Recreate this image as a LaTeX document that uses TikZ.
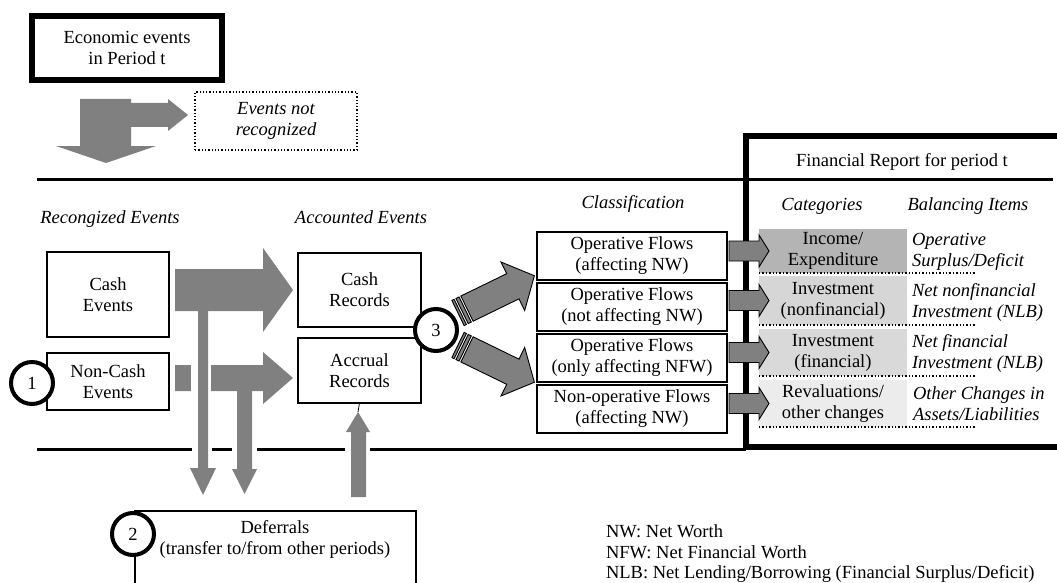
\documentclass[tikz,border=0pt]{standalone}
\usepackage{fontspec}
\setmainfont{Liberation Serif}
\definecolor{blockgrey}{HTML}{808080}
\definecolor{catA}{HTML}{B4B4B4}
\definecolor{catB}{HTML}{D6D6D6}
\definecolor{catC}{HTML}{D9D9D9}
\definecolor{catD}{HTML}{ECECEC}
\begin{document}
\begin{tikzpicture}[x=1pt,y=-1pt,
  font=\fontsize{18.5}{21}\selectfont,
  every node/.style={inner sep=0pt, outer sep=0pt},
  thinbox/.style={draw, line width=1.3pt, fill=white, align=center},
  heavybox/.style={draw, line width=6pt, fill=white, align=center},
  dotbox/.style={draw, dotted, line width=1.3pt, align=center, font=\fontsize{18.5}{21}\selectfont\itshape},
  ring/.style={circle, draw, line width=4pt, fill=white, minimum size=42pt},
  heading/.style={anchor=base, font=\fontsize{18.5}{21}\selectfont\itshape},
  catcell/.style={minimum width=148pt, align=center},
  balance/.style={anchor=west, align=left, font=\fontsize{18.5}{21}\selectfont\itshape},
  block/.style={fill=blockgrey},
  outlined/.style={fill=blockgrey, draw=black, line width=0.9pt},
  rule/.style={line width=3pt},
  gapcut/.style={fill=white}
]
\path[use as bounding box] (0,0) rectangle (1057,583);
\clip (0,0) rectangle (1057,583);

% ---------- top: events of the period ----------
\node[heavybox, minimum width=190pt, minimum height=64pt] (econ) at (127,48) {Economic events\\in Period t};
\node[dotbox, minimum width=162pt, minimum height=58pt] (notrec) at (276,121) {Events not\\recognized};

% split arrow: down into recognition, right to unrecognised events
\fill[block] (80,99) -- (131,99) -- (131,146) -- (156,146) -- (106,163) -- (56,146) -- (80,146) -- cycle;
\fill[block] (131,103) -- (168,103) -- (168,99) -- (188,115) -- (168,131) -- (168,127) -- (131,127) -- cycle;

% ---------- period frame ----------
\draw[rule] (37,179) -- (1053,179);
\draw[rule] (37,449) -- (746,449);
\draw[line width=6pt] (746,136) rectangle (1080,447);
\node[anchor=base] (frtitle) at (902,166) {Financial Report for period t};

% ---------- column headings ----------
\node[heading] (hrec) at (110,223) {Recongized Events};
\node[heading] (hacc) at (361,223) {Accounted Events};
\node[heading] (hcls) at (633,208) {Classification};
\node[heading] (hcat) at (822,210) {Categories};
\node[heading] (hbal) at (968,210) {Balancing Items};

% ---------- recognised events ----------
\node[thinbox, minimum width=122pt, minimum height=85pt] (cashev) at (108,294.5) {Cash\\Events};
\node[thinbox, minimum width=122pt, minimum height=57pt] (noncash) at (108,381.5) {Non-Cash\\Events};
\node[ring] (n1) at (32,383) {1};

% ---------- accounted events ----------
\node[thinbox, minimum width=123pt, minimum height=74pt] (cashrec) at (359.5,290) {Cash\\Records};
\node[thinbox, minimum width=123pt, minimum height=65pt] (accrec) at (359.5,370.5) {Accrual\\Records};

% ---------- deferrals ----------
\draw[line width=1.3pt, fill=white] (135,511) rectangle (416,600);
\node[align=center] (defer) at (275,539) {Deferrals\\(transfer to/from other periods)};
\node[ring] (n2) at (133,534) {2};

% openings in the lower rule where the arrows pass
\fill[gapcut] (192,445) rectangle (212,453);
\fill[gapcut] (232,445) rectangle (257,453);
\fill[gapcut] (345,445) rectangle (370,453);

% ---------- recording arrows ----------
\fill[block] (175,269) -- (263,269) -- (263,248) -- (293,290) -- (263,332) -- (263,311) -- (175,311) -- cycle;
\fill[block] (175,365) -- (263,365) -- (263,352) -- (293,378) -- (263,404) -- (263,391) -- (175,391) -- cycle;
\fill[gapcut] (191,362) rectangle (211,394);
% deferral branches down from the recording arrows
\fill[block] (198,311) -- (208,311) -- (208,468) -- (216,468) -- (203,495) -- (190,468) -- (198,468) -- cycle;
\fill[block] (237,391) -- (252,391) -- (252,469) -- (257,469) -- (244.5,494) -- (232,469) -- (237,469) -- cycle;
% deferrals released into the accrual records
\coordinate (uptip) at (358,412);
\fill[block] (351,497) -- (366,497) -- (366,432) -- (370,432) -- (uptip) -- (346,432) -- (351,432) -- cycle;
\draw[line width=0.8pt] (accrec.south) -- (uptip);

% ---------- classification ----------
\node[thinbox, minimum width=190pt, minimum height=48pt] (cls1) at (632,256) {Operative Flows\\(affecting NW)};
\node[thinbox, minimum width=190pt, minimum height=48pt] (cls2) at (632,307) {Operative Flows\\(not affecting NW)};
\node[thinbox, minimum width=190pt, minimum height=48pt] (cls3) at (632,358) {Operative Flows\\(only affecting NFW)};
\node[thinbox, minimum width=190pt, minimum height=48pt] (cls4) at (632,409) {Non-operative Flows\\(affecting NW)};

% striped arrows out of step 3
\begin{scope}[shift={(458,313)}, rotate=26]
  \draw[outlined] (0,-14) rectangle (2.5,14);
  \draw[outlined] (4.5,-14) rectangle (8,14);
  \draw[outlined] (10,-14) -- (61,-14) -- (61,-27) -- (85,0) -- (61,27) -- (61,14) -- (10,14) -- cycle;
\end{scope}
\begin{scope}[shift={(458,345)}, rotate=-26]
  \draw[outlined] (0,-14) rectangle (2.5,14);
  \draw[outlined] (4.5,-14) rectangle (8,14);
  \draw[outlined] (10,-14) -- (61,-14) -- (61,-27) -- (85,0) -- (61,27) -- (61,14) -- (10,14) -- cycle;
\end{scope}
\node[ring] (n3) at (436,330) {3};

% ---------- categories ----------
\node[catcell, fill=catA, minimum height=44pt] (cat1) at (833,251) {Income/\\Expenditure};
\node[catcell, fill=catB, minimum height=49pt] (cat2) at (833,300.5) {Investment\\(nonfinancial)};
\node[catcell, fill=catC, minimum height=47pt] (cat3) at (833,352.5) {Investment\\(financial)};
\node[catcell, fill=catD, minimum height=47pt] (cat4) at (833,403.5) {Revaluations/\\other changes};
\foreach \yy in {273,325,376,427}
  \draw[dotted, line width=1.4pt] (759,\yy) -- (975,\yy);

% arrows from the flows into the categories
\foreach \yy in {251,300.5,352.5,403.5}
  \draw[outlined] (729,\yy-10) -- (759,\yy-10) -- (759,\yy-16) -- (769,\yy) -- (759,\yy+16) -- (759,\yy+10) -- (729,\yy+10) -- cycle;

% ---------- balancing items ----------
\node[balance] (bal1) at (912,252) {Operative\\Surplus/Deficit};
\node[balance] (bal2) at (912,302) {Net nonfinancial\\Investment (NLB)};
\node[balance] (bal3) at (912,353) {Net financial\\Investment (NLB)};
\node[balance] (bal4) at (913,404) {Other Changes in\\Assets/Liabilities};

% ---------- abbreviations ----------
\node[anchor=base west] (lg1) at (606,537) {NW: Net Worth};
\node[anchor=base west] (lg2) at (606,558) {NFW: Net Financial Worth};
\node[anchor=base west] (lg3) at (606,578) {NLB: Net Lending/Borrowing (Financial Surplus/Deficit)};
\end{tikzpicture}
\end{document}
